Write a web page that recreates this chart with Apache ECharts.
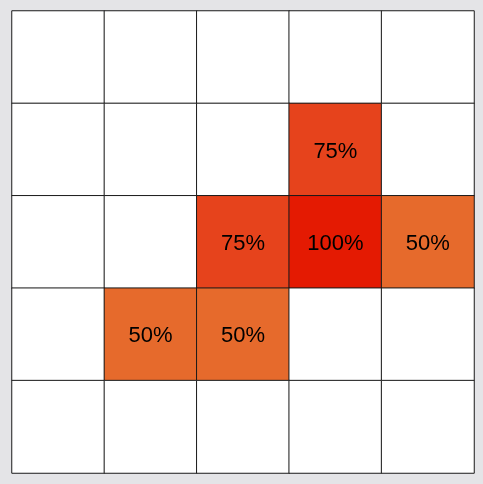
<!DOCTYPE html>
<html><head><meta charset="utf-8">
<script src="https://cdn.jsdelivr.net/npm/echarts@6/dist/echarts.min.js"></script>
<style>html,body{margin:0;padding:0;background:#e4e4e7;}#c{width:483px;height:484px;}</style>
</head><body><div id="c"></div>
<script>
const xCategories = ['0','1','2','3','4'];
const yCategories = ['0','1','2','3','4'];
// rows listed top to bottom, values in percent (0 = empty)
const row0 = [0, 0, 0, 0, 0];
const row1 = [0, 0, 0, 75, 0];
const row2 = [0, 0, 75, 100, 50];
const row3 = [0, 50, 50, 0, 0];
const row4 = [0, 0, 0, 0, 0];
const rows = [row0, row1, row2, row3, row4];
const data = [];
rows.forEach((r, ri) => r.forEach((v, ci) => data.push([ci, 4 - ri, v])));
const colorFor = v => v === 0 ? '#ffffff' : v <= 50 ? '#e66a2c' : v <= 75 ? '#e6431c' : '#e41a02';
const chart = echarts.init(document.getElementById('c'));
chart.setOption({
  backgroundColor: '#e4e4e7',
  animation: false,
  grid: {left: 12, top: 11, right: 9, bottom: 11},
  xAxis: {type: 'category', data: xCategories, show: false},
  yAxis: {type: 'category', data: yCategories, show: false},
  series: [{
    type: 'heatmap',
    data: data.map(d => ({value: d, itemStyle: {color: colorFor(d[2])}})),
    itemStyle: {borderColor: '#1a1a1a', borderWidth: 1},
    label: {
      show: true,
      formatter: p => p.value[2] ? p.value[2] + '%' : '',
      fontFamily: 'Liberation Sans, Arial, sans-serif',
      fontSize: 22,
      color: '#000',
      offset: [0, 2]
    }
  }]
});
</script></body></html>
